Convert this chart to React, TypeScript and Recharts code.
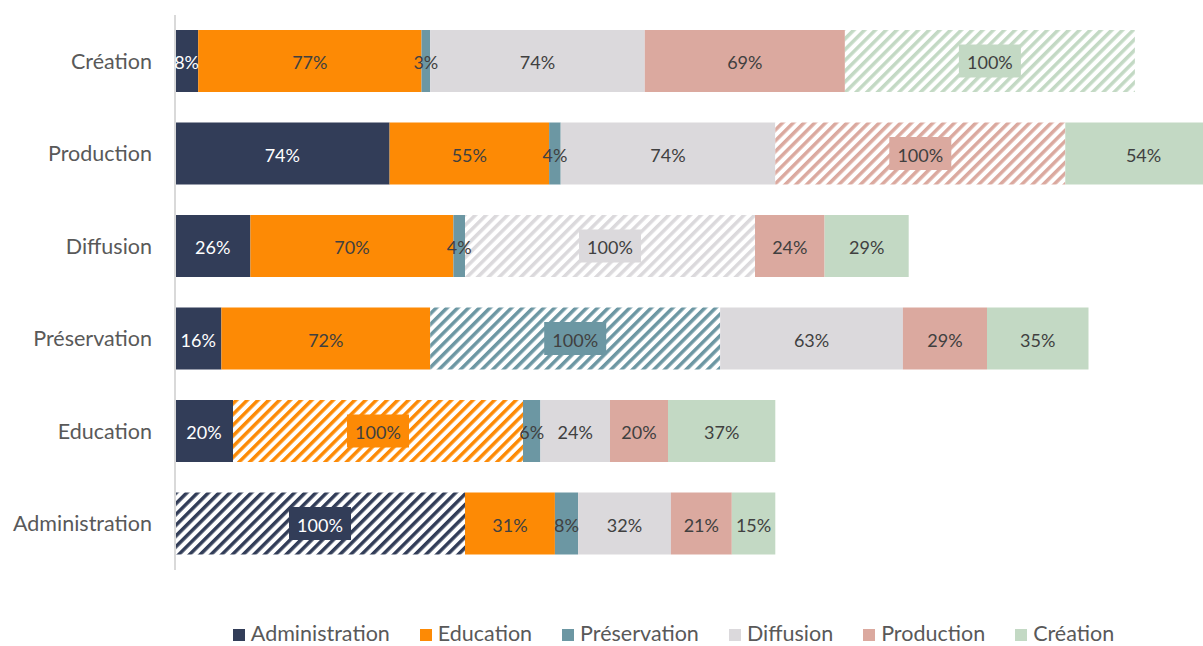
import { Bar, BarChart, Cell, LabelList, XAxis, YAxis } from 'recharts';

const categories = ['Création', 'Production', 'Diffusion', 'Préservation', 'Education', 'Administration'];
const seriesNames = ['Administration', 'Education', 'Préservation', 'Diffusion', 'Production', 'Création'];

const administration = [8, 74, 26, 16, 20, 100];
const education = [77, 55, 70, 72, 100, 31];
const preservation = [3, 4, 4, 100, 6, 8];
const diffusion = [74, 74, 100, 63, 24, 32];
const production = [69, 100, 24, 29, 20, 21];
const creation = [100, 54, 29, 35, 37, 15];

const seriesValues = [administration, education, preservation, diffusion, production, creation];
const colors = ['#323D58', '#FD8A05', '#6C97A3', '#DBD9DC', '#DBA99F', '#C3D9C4'];
const FONT = 'Lato, "Open Sans", sans-serif';

const data = categories.map((name, i) => {
  const row: Record<string, string | number> = { name };
  seriesValues.forEach((vals, s) => {
    row['s' + s] = vals[i];
  });
  return row;
});

function makeLabel(s: number) {
  return (props: any) => {
    const { x, y, width, height, value } = props;
    const cx = Number(x) + Number(width) / 2;
    const cy = Number(y) + Number(height) / 2;
    // the diagonal cells (a domain against itself) get a solid box behind the label
    const boxed = value === 100;
    return (
      <g>
        {boxed && <rect x={cx - 31} y={cy - 16.5} width={62} height={33} fill={colors[s]} />}
        <text
          x={cx}
          y={cy + 1}
          textAnchor="middle"
          dominantBaseline="central"
          fontSize={18}
          fontFamily={FONT}
          fill={s === 0 ? '#FFFFFF' : '#404040'}
        >
          {value}%
        </text>
      </g>
    );
  };
}

export default function App() {
  return (
    <div
      style={{
        position: 'absolute',
        left: 0,
        top: 0,
        width: 1203,
        height: 646,
        overflow: 'hidden',
        background: '#fff',
        fontFamily: FONT,
      }}
    >
      <BarChart
        width={1335}
        height={646}
        data={data}
        layout="vertical"
        margin={{ top: 15, right: 0, bottom: 76, left: 0 }}
        barSize={62}
      >
        <defs>
          {colors.map((c, i) => (
            <pattern
              key={i}
              id={'hatch' + i}
              patternUnits="userSpaceOnUse"
              width={7.6}
              height={7.6}
              patternTransform="rotate(45)"
            >
              <rect width={7.6} height={7.6} fill="#fff" />
              <rect width={3.5} height={7.6} fill={c} />
            </pattern>
          ))}
        </defs>
        <XAxis type="number" domain={[0, 400]} hide />
        <YAxis
          type="category"
          dataKey="name"
          width={175}
          tickLine={false}
          axisLine={{ stroke: '#D9D9D9', strokeWidth: 2 }}
          tickMargin={17}
          tick={{ fill: '#595959', fontSize: 21.5, fontFamily: FONT }}
        />
        {seriesNames.map((name, s) => (
          <Bar key={name} dataKey={'s' + s} name={name} stackId="a" fill={colors[s]} isAnimationActive={false}>
            {categories.map((cat, i) => (
              <Cell key={cat} fill={cat === name ? `url(#hatch${s})` : colors[s]} />
            ))}
            <LabelList dataKey={'s' + s} content={makeLabel(s)} />
          </Bar>
        ))}
      </BarChart>
      <div
        style={{
          position: 'absolute',
          left: 0,
          top: 620,
          width: 1347,
          height: 26,
          display: 'flex',
          justifyContent: 'center',
          alignItems: 'center',
          fontSize: 21.5,
          color: '#595959',
        }}
      >
        {seriesNames.map((name, s) => (
          <div key={name} style={{ display: 'flex', alignItems: 'center', margin: '0 15px', flexShrink: 0 }}>
            <span style={{ width: 12, height: 12, background: colors[s], marginRight: 6, marginTop: 3 }} />
            <span style={{ whiteSpace: 'nowrap' }}>{name}</span>
          </div>
        ))}
      </div>
    </div>
  );
}
